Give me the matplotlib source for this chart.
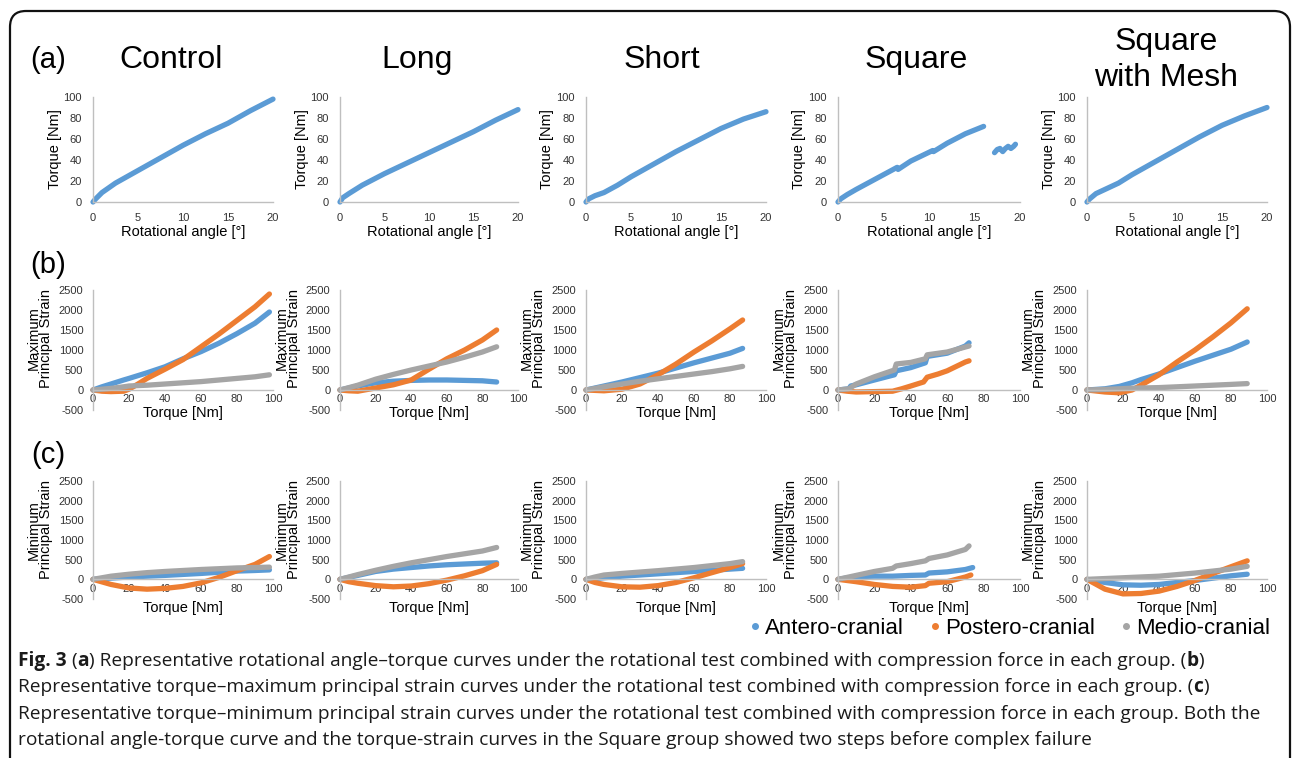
import matplotlib.pyplot as plt
from matplotlib.patches import FancyBboxPatch
from matplotlib.lines import Line2D
from matplotlib.transforms import IdentityTransform

plt.rcParams['font.family'] = ['Liberation Sans', 'DejaVu Sans']
plt.rcParams['axes.unicode_minus'] = False

groups = ['Control', 'Long', 'Short', 'Square', 'Square\nwith Mesh']
series_names = ['Antero-cranial', 'Postero-cranial', 'Medio-cranial']
colors = ['#5B9BD5', '#ED7D31', '#A5A5A5']

# (a) rotational angle [deg] vs torque [Nm]
ang_control = [0, 0.3, 1, 2.5, 5, 7.5, 10, 12.5, 15, 17.5, 20]
tq_control = [0, 3, 9, 18, 30, 42, 54, 65, 75, 87, 98]
ang_long = [0, 0.3, 1, 2.5, 5, 7.5, 10, 12.5, 15, 17.5, 20]
tq_long = [0, 4, 8, 16, 27, 37, 47, 57, 67, 78, 88]
ang_short = [0, 0.3, 1, 2, 3.5, 5, 7.5, 10, 12.5, 15, 17.5, 20]
tq_short = [0, 3, 6, 9, 16, 24, 36, 48, 59, 70, 79, 86]
nan = float('nan')
ang_square = [0, 0.3, 1, 2, 3.5, 5, 6.5, 6.6, 8, 10.4, 10.5, 12, 14, 16, 16.5,
              17.2, 17.5, 17.8, 18.1, 18.4, 18.7, 19, 19.3, 19.5]
tq_square = [0, 3, 7, 12, 19, 26, 33, 31, 39, 49, 48, 56, 65, 72, nan,
             47, 50, 51, 48, 51, 53, 51, 53, 55]
ang_mesh = [0, 0.3, 1, 2, 3.5, 5, 7.5, 10, 12.5, 15, 17.5, 20]
tq_mesh = [0, 3, 8, 12, 18, 26, 38, 50, 62, 73, 82, 90]

# (b) torque vs maximum principal strain
max_control_x = [0, 5, 10, 17, 20, 25, 30, 40, 50, 60, 70, 80, 90, 98]
max_control_ant = [0, 80, 150, 250, 290, 360, 430, 580, 780, 960, 1170, 1410, 1670, 1950]
max_control_post = [0, -30, -40, -30, 20, 150, 290, 520, 760, 1080, 1400, 1740, 2080, 2400]
max_control_med = [0, 20, 40, 80, 100, 110, 120, 150, 180, 210, 250, 290, 330, 380]

max_long_x = [0, 5, 10, 20, 30, 40, 50, 60, 70, 80, 88]
max_long_ant = [0, 50, 100, 180, 220, 240, 250, 250, 240, 230, 200]
max_long_post = [0, -20, -30, 50, 130, 250, 520, 780, 1000, 1250, 1500]
max_long_med = [0, 60, 120, 270, 390, 500, 600, 700, 820, 950, 1080]

max_short_x = [0, 10, 20, 30, 40, 50, 60, 70, 80, 87]
max_short_ant = [0, 100, 200, 310, 420, 550, 680, 800, 920, 1040]
max_short_post = [0, -20, 20, 150, 380, 650, 950, 1230, 1530, 1750]
max_short_med = [0, 80, 150, 220, 280, 340, 400, 460, 530, 590]

max_square_ant_x = [0, 6, 7, 10, 20, 31, 32, 40, 48, 49, 60, 70, 72]
max_square_ant = [0, 30, 100, 130, 250, 380, 480, 560, 680, 840, 920, 1100, 1180]
max_square_post_x = [0, 5, 10, 20, 30, 35, 40, 47, 48, 49, 55, 60, 70, 72]
max_square_post = [0, -30, -50, -40, -30, 30, 100, 200, 260, 320, 400, 480, 700, 730]
max_square_med_x = [0, 6, 10, 20, 31, 32, 40, 48, 49, 60, 72]
max_square_med = [0, 30, 150, 330, 500, 650, 690, 780, 880, 950, 1100]

max_mesh_x = [0, 10, 18, 25, 30, 40, 50, 60, 70, 80, 89]
max_mesh_ant = [0, 30, 90, 180, 260, 400, 560, 720, 870, 1020, 1200]
max_mesh_post = [0, -50, -70, 0, 120, 380, 700, 1000, 1330, 1680, 2030]
max_mesh_med = [0, 15, 30, 45, 50, 60, 80, 100, 120, 140, 160]

# (c) torque vs minimum principal strain
min_control_x = [0, 10, 20, 30, 40, 50, 60, 70, 80, 90, 98]
min_control_ant = [0, 30, 60, 80, 100, 125, 150, 180, 210, 225, 240]
min_control_post = [0, -130, -220, -250, -230, -180, -90, 50, 220, 380, 580]
min_control_med = [0, 80, 130, 170, 200, 225, 250, 270, 290, 300, 310]

min_long_x = [0, 5, 10, 20, 30, 40, 50, 60, 70, 80, 88]
min_long_ant = [0, 50, 100, 200, 260, 300, 340, 370, 390, 410, 420]
min_long_post = [0, -60, -100, -160, -190, -170, -110, -20, 90, 220, 380]
min_long_med = [0, 60, 120, 230, 330, 420, 500, 580, 650, 720, 810]

min_short_x = [0, 5, 10, 20, 30, 40, 50, 60, 70, 80, 87]
min_short_ant = [0, 20, 40, 80, 110, 140, 170, 200, 230, 260, 280]
min_short_post = [0, -80, -130, -190, -200, -160, -80, 40, 170, 300, 400]
min_short_med = [0, 60, 110, 150, 185, 220, 260, 300, 350, 400, 450]

min_square_ant_x = [0, 10, 20, 30, 40, 48, 50, 60, 70, 74]
min_square_ant = [0, 70, 80, 80, 100, 110, 160, 190, 250, 300]
min_square_post_x = [0, 10, 20, 30, 40, 48, 50, 60, 70, 73]
min_square_post = [0, -60, -130, -180, -200, -160, -100, -60, 60, 110]
min_square_med_x = [0, 10, 20, 30, 32, 40, 48, 50, 60, 70, 72]
min_square_med = [0, 100, 200, 280, 340, 400, 470, 530, 620, 760, 850]

min_mesh_x = [0, 10, 20, 30, 40, 50, 60, 70, 80, 89]
min_mesh_ant = [0, -80, -140, -150, -130, -80, -30, 30, 90, 130]
min_mesh_post = [0, -250, -370, -360, -300, -180, -30, 150, 320, 470]
min_mesh_med = [0, 20, 40, 60, 80, 120, 160, 210, 260, 330]

angle_curves = [(ang_control, tq_control), (ang_long, tq_long), (ang_short, tq_short),
                (ang_square, tq_square), (ang_mesh, tq_mesh)]
max_curves = [
    [(max_control_x, max_control_ant), (max_control_x, max_control_post), (max_control_x, max_control_med)],
    [(max_long_x, max_long_ant), (max_long_x, max_long_post), (max_long_x, max_long_med)],
    [(max_short_x, max_short_ant), (max_short_x, max_short_post), (max_short_x, max_short_med)],
    [(max_square_ant_x, max_square_ant), (max_square_post_x, max_square_post), (max_square_med_x, max_square_med)],
    [(max_mesh_x, max_mesh_ant), (max_mesh_x, max_mesh_post), (max_mesh_x, max_mesh_med)],
]
min_curves = [
    [(min_control_x, min_control_ant), (min_control_x, min_control_post), (min_control_x, min_control_med)],
    [(min_long_x, min_long_ant), (min_long_x, min_long_post), (min_long_x, min_long_med)],
    [(min_short_x, min_short_ant), (min_short_x, min_short_post), (min_short_x, min_short_med)],
    [(min_square_ant_x, min_square_ant), (min_square_post_x, min_square_post), (min_square_med_x, min_square_med)],
    [(min_mesh_x, min_mesh_ant), (min_mesh_x, min_mesh_post), (min_mesh_x, min_mesh_med)],
]

W, H = 1292, 758
fig = plt.figure(figsize=(W / 100, H / 100), dpi=100)


def px(x, y):
    return x / W, 1 - y / H


def add_ax(left, top, width, bottom):
    return fig.add_axes([left / W, 1 - bottom / H, width / W, (bottom - top) / H])


def style(ax, pad_y):
    for s in ['top', 'right']:
        ax.spines[s].set_visible(False)
    for s in ['left', 'bottom']:
        ax.spines[s].set_color('#BFBFBF')
        ax.spines[s].set_linewidth(1.0)
    ax.tick_params(length=0, colors='#333333', labelsize=8)
    ax.tick_params(axis='y', pad=pad_y)


lefts = [93, 340, 586, 838, 1087]
widths = [180, 178, 180, 182, 180]
title_x = [171, 417, 662, 916, 1166]

for i in range(5):
    # row (a)
    ax = add_ax(lefts[i], 97, widths[i], 202)
    x, y = angle_curves[i]
    ax.plot(x, y, color=colors[0], lw=3.8, solid_capstyle='round', clip_on=False)
    ax.set_xlim(0, 20)
    ax.set_ylim(0, 100)
    ax.set_xticks(range(0, 21, 5))
    ax.set_yticks(range(0, 101, 20))
    style(ax, 8)
    ax.tick_params(axis='x', pad=8)
    ax.set_xlabel('Rotational angle [°]', fontsize=10.5)
    ax.set_ylabel('Torque [Nm]', fontsize=10.5)
    ax.xaxis.set_label_coords(0.5, -0.22)
    ax.yaxis.set_label_coords(-0.175, 0.5)

    # rows (b) and (c)
    for top, bottom, curves, lab, ly in [(290, 410, max_curves[i], 'Maximum\nPrincipal Strain', 0.6),
                                         (481, 599, min_curves[i], 'Minimum\nPrincipal Strain', 0.585)]:
        ax = add_ax(lefts[i], top, widths[i], bottom)
        for (x, y), c in zip(curves, colors):
            ax.plot(x, y, color=c, lw=3.8, solid_capstyle='round', clip_on=False)
        ax.set_xlim(0, 100)
        ax.set_ylim(-500, 2500)
        ax.set_xticks(range(0, 101, 20))
        ax.set_yticks(range(-500, 2501, 500))
        style(ax, 7)
        ax.spines['bottom'].set_position(('data', 0))
        ax.tick_params(axis='x', pad=3)
        ax.set_xlabel('Torque [Nm]', fontsize=10.5)
        ax.set_ylabel(lab, fontsize=10.5, linespacing=0.85)
        ax.xaxis.set_label_coords(0.5, 0.035 if top == 290 else -0.02)
        ax.yaxis.set_label_coords(-0.22, ly)

    fig.text(*px(title_x[i], 60), groups[i], fontsize=23,
             ha='center', va='center', linespacing=1.25)

for lab, yy in [('(a)', 60), ('(b)', 265), ('(c)', 455)]:
    fig.text(*px(48, yy), lab, fontsize=21, ha='center', va='center')

# legend
handles = [Line2D([], [], marker='o', ls='', color=c, markersize=4) for c in colors]
fig.legend(handles, series_names, loc='center', bbox_to_anchor=px(1010, 628), ncol=3,
           frameon=False, fontsize=16, handlelength=0.4, handletextpad=0.25,
           columnspacing=1.2, borderaxespad=0)

# border
fig.patches.append(FancyBboxPatch((10, -40), 1280, H - 11 + 40,
                                  boxstyle='round,pad=0,rounding_size=16',
                                  transform=IdentityTransform(), fill=False,
                                  ec='#111111', lw=1.6))

# caption
renderer = fig.canvas.get_renderer()
caption = [
    [('Fig. 3', 'bold'), (' (', 'normal'), ('a', 'bold'),
     (') Representative rotational angle–torque curves under the rotational test combined with compression force in each group. (', 'normal'),
     ('b', 'bold'), (')', 'normal')],
    [('Representative torque–maximum principal strain curves under the rotational test combined with compression force in each group. (', 'normal'),
     ('c', 'bold'), (')', 'normal')],
    [('Representative torque–minimum principal strain curves under the rotational test combined with compression force in each group. Both the', 'normal')],
    [('rotational angle-torque curve and the torque-strain curves in the Square group showed two steps before complex failure', 'normal')],
]
for k, runs in enumerate(caption):
    xx = 18
    yy = 661 + k * 26.3
    for s, wt in runs:
        t = fig.text(*px(xx, yy), s, fontsize=13.8, family=['Open Sans', 'DejaVu Sans'],
                     weight=wt, va='center', ha='left', color='#1a1a1a')
        xx += t.get_window_extent(renderer=renderer).width

fig.savefig('out.png', dpi=100)
